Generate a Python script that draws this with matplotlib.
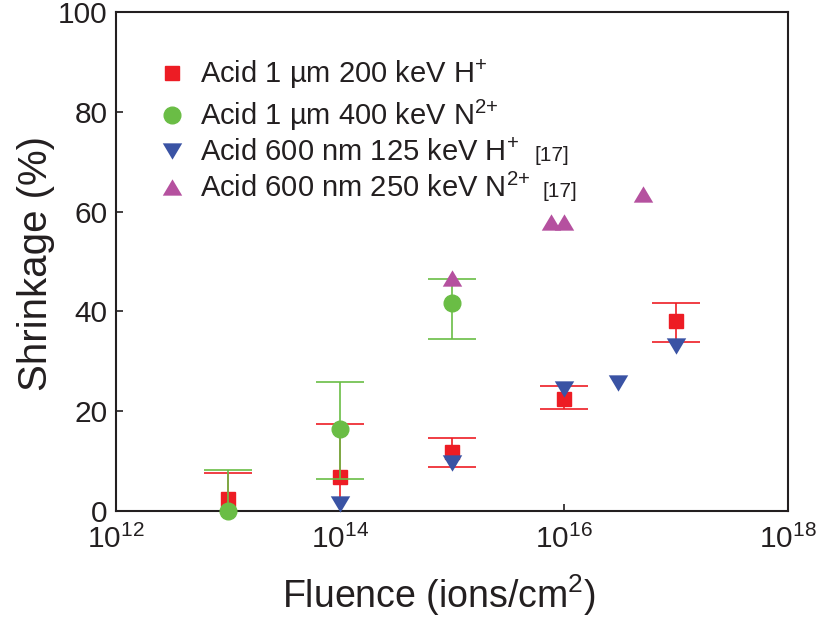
import matplotlib
matplotlib.use("Agg")
import matplotlib.pyplot as plt
from matplotlib.lines import Line2D
import numpy as np

plt.rcParams['font.family'] = ['Liberation Sans', 'DejaVu Sans']
plt.rcParams['mathtext.fontset'] = 'custom'
plt.rcParams['mathtext.rm'] = 'Liberation Sans'
plt.rcParams['mathtext.it'] = 'Liberation Sans:italic'
plt.rcParams['mathtext.bf'] = 'Liberation Sans:bold'

# ---- data ----
red_x = [1e13, 1e14, 1e15, 1e16, 1e17]
red_y = [2.4, 6.8, 11.7, 22.4, 38.1]
red_err_lo = [5.1, 10.6, 2.9, 2.1, 4.2]
red_err_hi = [5.1, 10.6, 2.9, 2.7, 3.5]

green_x = [1e13, 1e14, 1e15]
green_y = [0.0, 16.4, 41.6]
green_err_lo = [8.1, 10.1, 7.1]
green_err_hi = [8.1, 9.5, 4.9]

blue_x = [1e14, 1e15, 1e16, 3e16, 1e17]
blue_y = [1.3, 9.5, 24.5, 25.6, 33.0]

mag_x = [1e15, 7.6e15, 1e16, 5e16]
mag_y = [46.6, 57.9, 57.9, 63.6]

labels = [r'Acid 1 µm 200 keV H$^{+}$',
          r'Acid 1 µm 400 keV N$^{2{+}}$',
          r'Acid 600 nm 125 keV H$^{+}$',
          r'Acid 600 nm 250 keV N$^{2{+}}$']
refs = ['', '', '[17]', '[17]']
ref_gaps = [0, 0, 16, 12]

RED = '#ED1C24'
GREEN = '#6ABD45'
BLUE = '#3A53A4'
MAG = '#B5519F'
DARK = '#231F20'

tri_up = [(-1, -0.84), (1, -0.84), (0, 0.84)]
tri_dn = [(-1, 0.84), (1, 0.84), (0, -0.84)]

fig = plt.figure(figsize=(8.18, 6.17), dpi=100)
ax = fig.add_axes([116/818, 1 - 510.6/617, (788.3-116)/818, (510.6-12.3)/617])

ax.errorbar(red_x, red_y, yerr=[red_err_lo, red_err_hi], fmt='none',
            ecolor=RED, elinewidth=1.2, capsize=17, capthick=1.2, zorder=2)
ax.plot(red_x, red_y, ls='none', marker='s', ms=9.5, color=RED, mec=RED, zorder=3, clip_on=False)
ax.errorbar(green_x, green_y, yerr=[green_err_lo, green_err_hi], fmt='none',
            ecolor=GREEN, elinewidth=1.2, capsize=17, capthick=1.2, zorder=4)
ax.plot(green_x, green_y, ls='none', marker='o', ms=12, color=GREEN, mec=GREEN, zorder=5, clip_on=False)
ax.plot(blue_x, blue_y, ls='none', marker=tri_dn, ms=14, color=BLUE, mec=BLUE, mew=0, zorder=6, clip_on=False)
ax.plot(mag_x, mag_y, ls='none', marker=tri_up, ms=14, color=MAG, mec=MAG, mew=0, zorder=7, clip_on=False)

ax.set_xscale('log')
ax.set_xlim(1e12, 1e18)
ax.set_ylim(0, 100)
ax.set_xticks([1e12, 1e14, 1e16, 1e18])
ax.xaxis.set_minor_locator(matplotlib.ticker.NullLocator())
ax.set_yticks([0, 20, 40, 60, 80, 100])
ax.tick_params(direction='in', length=5, width=1.2, colors=DARK, labelsize=21.5, pad=6)
ax.tick_params(axis='x', pad=10)
for s in ax.spines.values():
    s.set_linewidth(1.5)
    s.set_color(DARK)

ax.set_xlabel(r'Fluence (ions/cm$^{2}$)', fontsize=27, color=DARK)
ax.set_ylabel('Shrinkage (%)', fontsize=29, color=DARK)
ax.xaxis.set_label_coords(0.48, -0.125)
ax.yaxis.set_label_coords(-0.09, 0.4955)

handles = [
    Line2D([], [], ls='none', marker='s', ms=9.5, color=RED),
    Line2D([], [], ls='none', marker='o', ms=12, color=GREEN),
    Line2D([], [], ls='none', marker=tri_dn, ms=14, color=BLUE, mew=0),
    Line2D([], [], ls='none', marker=tri_up, ms=14, color=MAG, mew=0),
]
leg = ax.legend(handles, labels, loc='upper left', bbox_to_anchor=(0.0485, 0.933),
                frameon=False, fontsize=21, handlelength=0.8, handletextpad=0.55,
                labelspacing=0.22, borderaxespad=0, borderpad=0.4)
for t in leg.get_texts():
    t.set_color(DARK)

fig.canvas.draw()
renderer = fig.canvas.get_renderer()
inv = fig.transFigure.inverted()
for t, r, g in zip(leg.get_texts(), refs, ref_gaps):
    if not r:
        continue
    bb = t.get_window_extent(renderer)
    prop = t.get_fontproperties()
    _, _, d_lp = renderer.get_text_width_height_descent("lp", prop, ismath=False)
    _, _, d_t = renderer.get_text_width_height_descent(t.get_text(), prop, ismath=True)
    base = bb.y0 + max(d_lp, d_t)
    x0, y0 = inv.transform((bb.x1 + g, base))
    fig.text(x0, y0, r, fontsize=15, color=DARK, ha='left', va='baseline')

fig.savefig('out.png', dpi=100)
